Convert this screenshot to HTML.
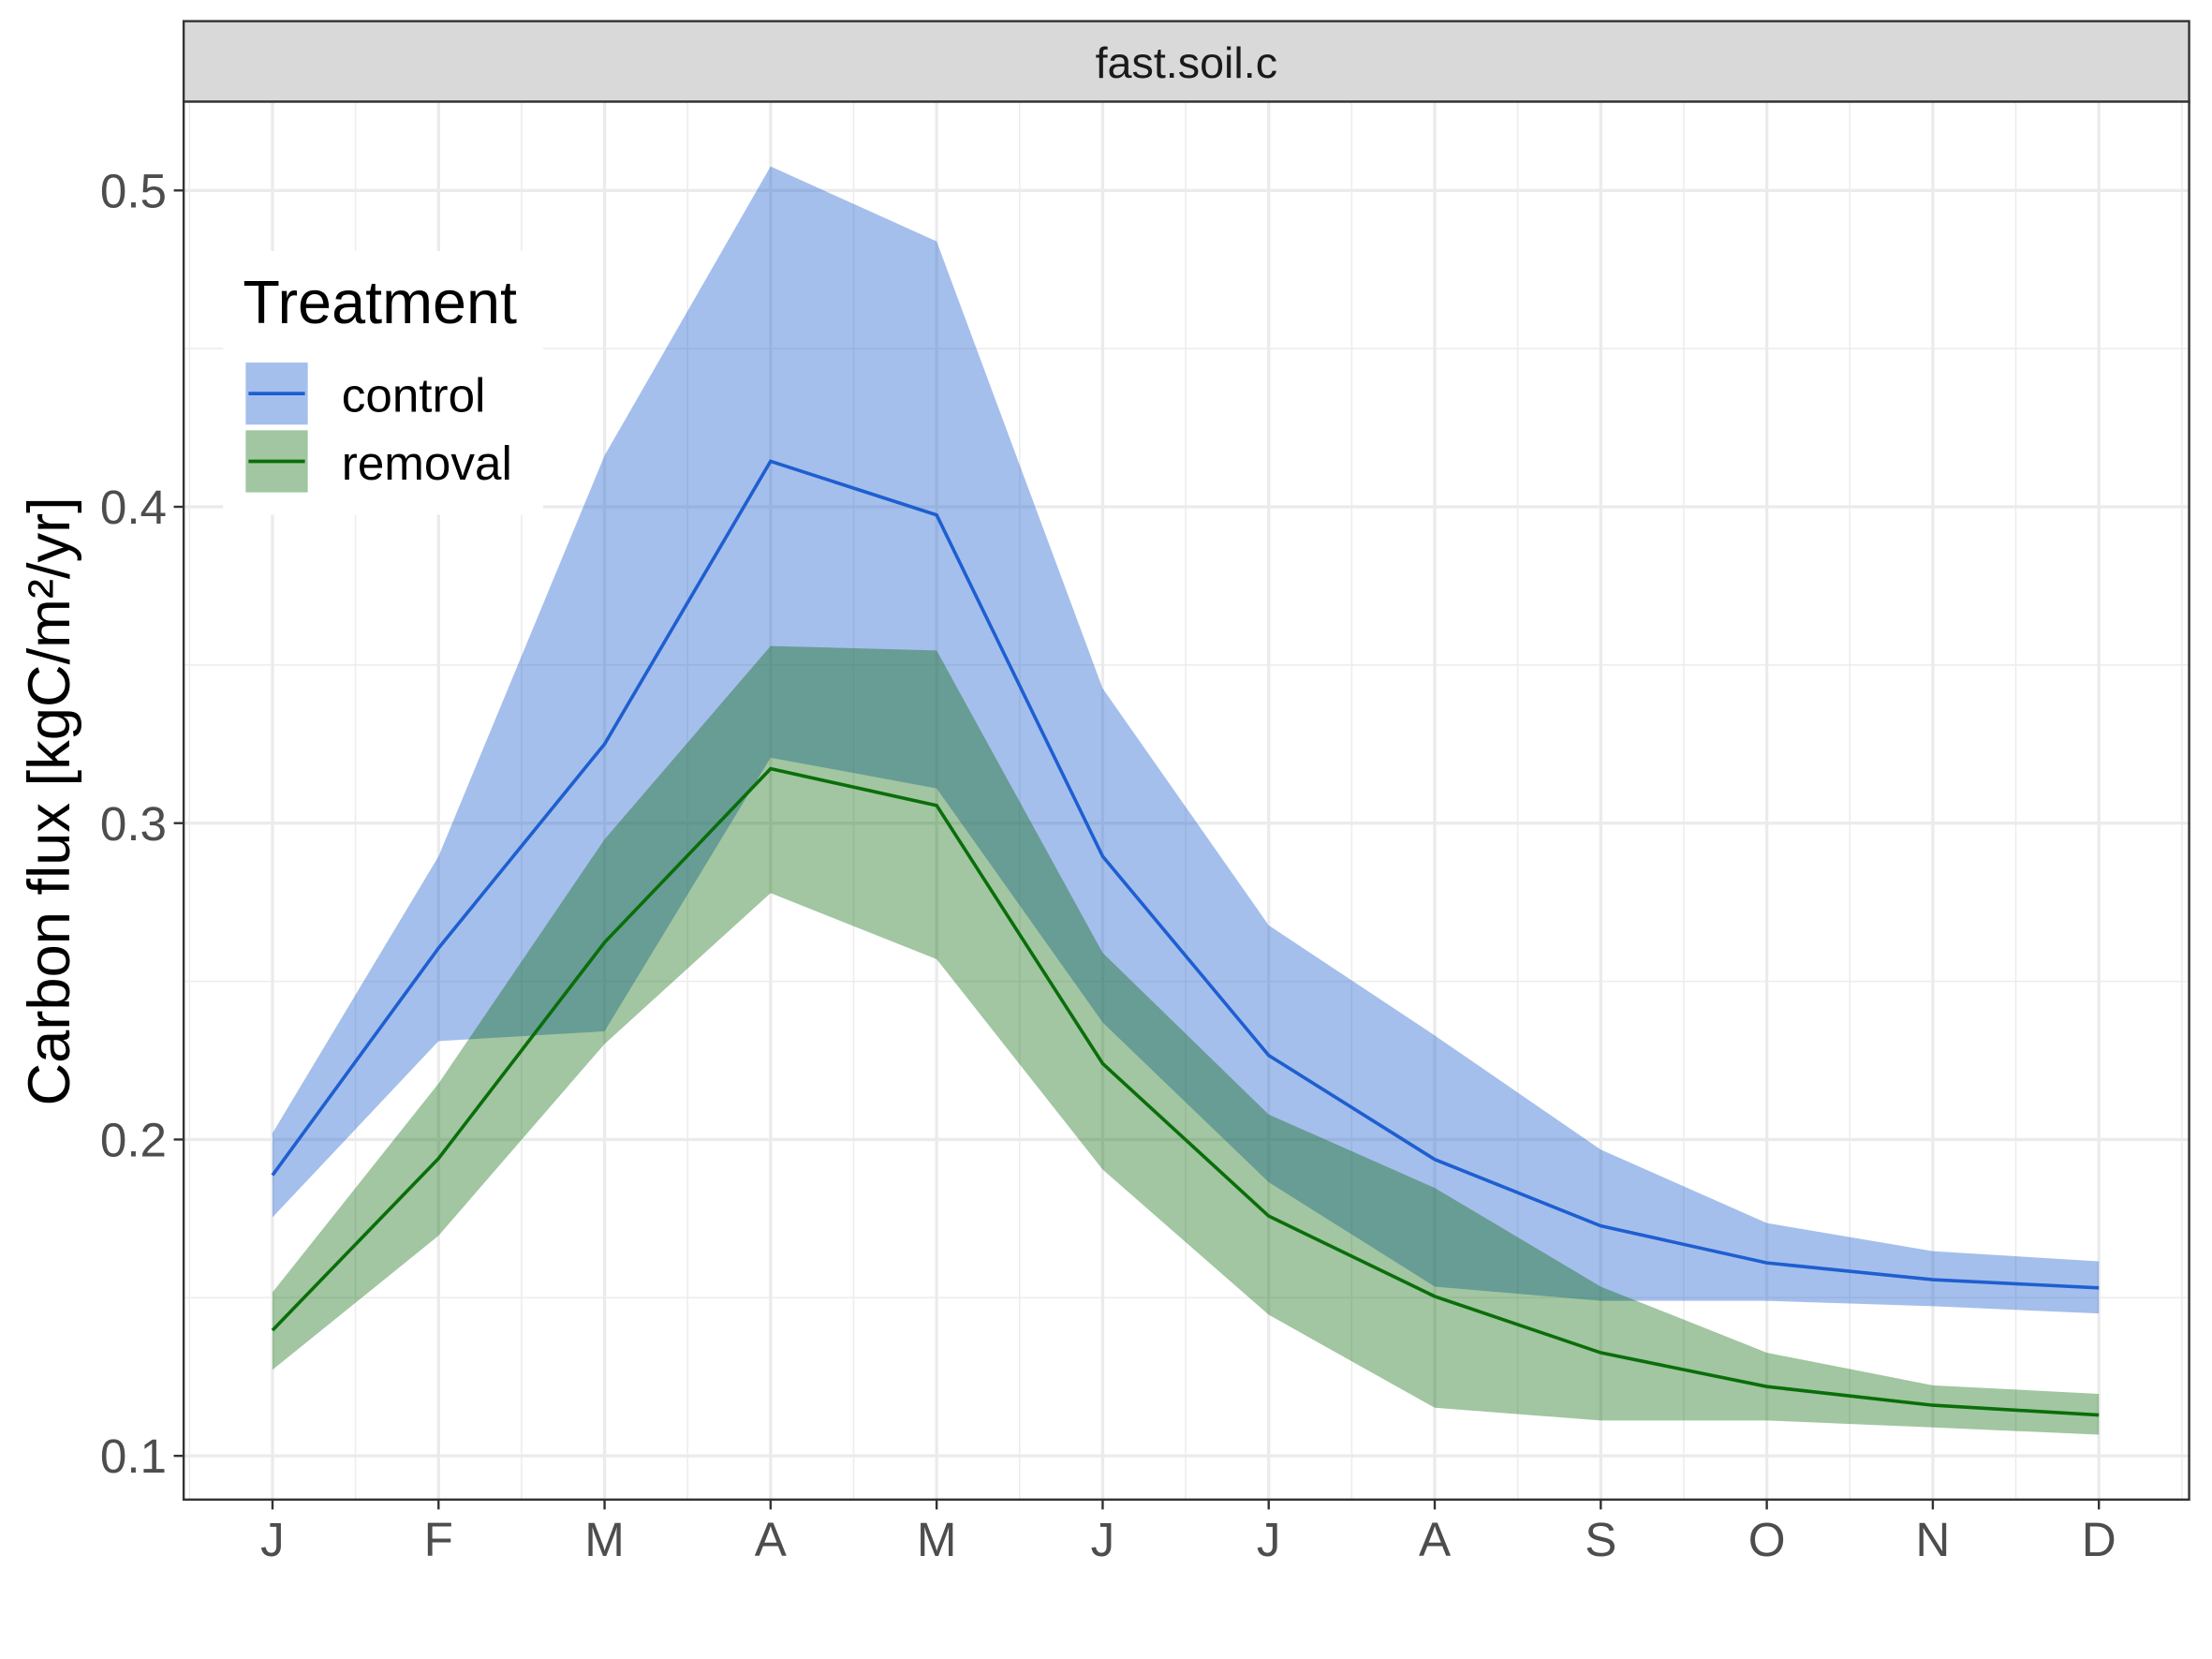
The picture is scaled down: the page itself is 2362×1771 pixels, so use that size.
<!DOCTYPE html>
<html><head><meta charset="utf-8"><style>html,body{margin:0;padding:0;background:#fff}svg{display:block}text{font-family:"Liberation Sans",sans-serif}</style></head>
<body>
<svg id="chart" width="2362" height="1771" viewBox="0 0 1568 1176" xmlns="http://www.w3.org/2000/svg">
<g id="grid"></g>
<g id="series"></g>
<rect x="130" y="72" width="1422" height="991" fill="none" stroke="#333" stroke-width="1.6"/>
<rect x="130" y="15" width="1422" height="57" fill="#d9d9d9" stroke="#333" stroke-width="1.6"/>
<text x="841" y="55" font-size="31" text-anchor="middle" fill="#1a1a1a">fast.soil.c</text>
<g id="axes"></g>
<text transform="translate(49,568) rotate(-90)" font-size="42" text-anchor="middle" fill="#000">Carbon flux [kgC/m²/yr]</text>
<g>
<rect x="158" y="178" width="227" height="187" fill="#fff"/>
<text x="172" y="229" font-size="43" fill="#000">Treatment</text>
<g>
<rect x="174" y="257" width="44" height="44" fill="#1e5fd0" fill-opacity="0.4"/>
<line x1="176" y1="279" x2="216" y2="279" stroke="#1e5fd0" stroke-width="2.5"/>
<text x="242" y="292" font-size="34" fill="#000">control</text></g>
<g>
<rect x="174" y="305" width="44" height="44" fill="#006400" fill-opacity="0.37"/>
<line x1="176" y1="327" x2="216" y2="327" stroke="#0a6e0a" stroke-width="2.5"/>
<text x="242" y="340" font-size="34" fill="#000">removal</text></g>
</g>
</svg>
<script>
const months = ["J","F","M","A","M","J","J","A","S","O","N","D"];
const yTicks = [0.1,0.2,0.3,0.4,0.5];
const controlMean = [0.1887,0.2605,0.325,0.4144,0.3974,0.2895,0.2266,0.1937,0.1727,0.161,0.1557,0.1531];
const controlUpper = [0.202,0.2895,0.4162,0.5076,0.4839,0.3426,0.2677,0.2329,0.1968,0.1736,0.1647,0.1615];
const controlLower = [0.1754,0.2311,0.2342,0.3207,0.311,0.237,0.1865,0.1535,0.149,0.149,0.1473,0.145];
const removalMean = [0.1397,0.194,0.2623,0.3172,0.3056,0.224,0.1758,0.1504,0.1326,0.1219,0.116,0.1129];
const removalUpper = [0.1517,0.2177,0.2949,0.356,0.3546,0.259,0.2079,0.1847,0.1535,0.1326,0.1223,0.1196];
const removalLower = [0.1272,0.1696,0.2302,0.2779,0.257,0.1905,0.1446,0.1152,0.1112,0.1112,0.109,0.1067];

const NS="http://www.w3.org/2000/svg";
const X0=130,X1=1552,Y0=72,Y1=1063;
const xs=i=>193+i*(1488-193)/11;
const ys=v=>1032-(v-0.1)*(1032-135)/0.4;
function mk(t,a,p){const e=document.createElementNS(NS,t);for(const k in a)e.setAttribute(k,a[k]);p.appendChild(e);return e;}
const grid=document.getElementById('grid'),axes=document.getElementById('axes'),ser=document.getElementById('series');
for(let v=0.05;v<=0.55;v+=0.1){const y=ys(v);if(y<Y0||y>Y1)continue;const l=mk('line',{x1:X0,x2:X1,y1:y,y2:y,stroke:'#ececec','stroke-width':1},grid);

}
for(let i=-0.5;i<=11.5;i+=1){const x=xs(i);if(x<X0||x>X1)continue;const l=mk('line',{x1:x,x2:x,y1:Y0,y2:Y1,stroke:'#ececec','stroke-width':1},grid);

}
yTicks.forEach(v=>{const y=ys(v);const l=mk('line',{x1:X0,x2:X1,y1:y,y2:y,stroke:'#ebebeb','stroke-width':2.2},grid);


const t=mk('line',{x1:X0-7,x2:X0,y1:y,y2:y,stroke:'#333','stroke-width':1.6},axes);


const tx=mk('text',{x:X0-12,y:y+12,'font-size':34,'text-anchor':'end',fill:'#4d4d4d'},axes);tx.textContent=v.toFixed(1);

});
months.forEach((m,i)=>{const x=xs(i);const l=mk('line',{x1:x,x2:x,y1:Y0,y2:Y1,stroke:'#ebebeb','stroke-width':2.2},grid);


const t=mk('line',{x1:x,x2:x,y1:Y1,y2:Y1+7,stroke:'#333','stroke-width':1.6},axes);


const tx=mk('text',{x:x,y:1103,'font-size':34,'text-anchor':'middle',fill:'#4d4d4d'},axes);tx.textContent=m;

});
function band(up,lo,col,op,name){let d='';up.forEach((v,i)=>{d+=(i?'L':'M')+xs(i)+','+ys(v);});for(let i=lo.length-1;i>=0;i--)d+='L'+xs(i)+','+ys(lo[i]);d+='Z';
const p=mk('path',{d:d,fill:col,'fill-opacity':op,stroke:'none'},ser);

}
function line(vals,col,name){const pts=vals.map((v,i)=>xs(i)+','+ys(v)).join(' ');
const p=mk('polyline',{points:pts,fill:'none',stroke:col,'stroke-width':2.4},ser);

}
band(controlUpper,controlLower,'#1e5fd0',0.4,'control-ribbon');
band(removalUpper,removalLower,'#006400',0.37,'removal-ribbon');
line(controlMean,'#1e5fd0','control-line');
line(removalMean,'#0a6e0a','removal-line');
</script>
</body></html>
